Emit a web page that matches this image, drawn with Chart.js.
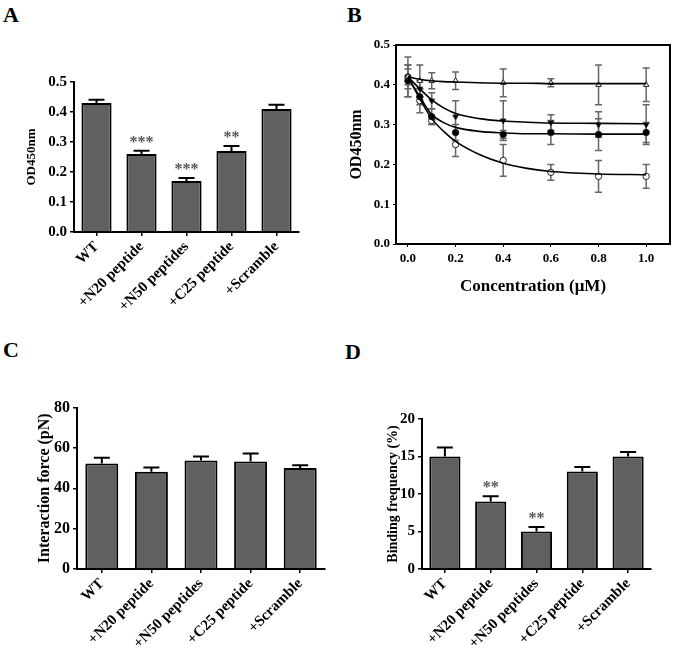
<!DOCTYPE html>
<html>
<head>
<meta charset="utf-8">
<script src="https://cdn.jsdelivr.net/npm/chart.js@4.4.1/dist/chart.umd.min.js"></script>
<style>
  body { margin:0; width:675px; height:656px; background:#fff; position:relative; overflow:hidden; }
  .box { position:absolute; }
  .tag { position:absolute; font:bold 22px 'Liberation Serif', serif; line-height:22px; color:#000; }
</style>
</head>
<body>
<div class="tag" style="left:3px;top:4px">A</div>
<div class="tag" style="left:347px;top:4px">B</div>
<div class="tag" style="left:3px;top:339px">C</div>
<div class="tag" style="left:345px;top:341px">D</div>

<div class="box" id="boxA" style="left:20px;top:70px;width:283px;height:262px"><canvas id="chartA"></canvas></div>
<div class="box" id="boxB" style="left:343px;top:33px;width:332px;height:268px"><canvas id="chartB"></canvas></div>
<div class="box" id="boxC" style="left:31px;top:395px;width:298px;height:274px"><canvas id="chartC"></canvas></div>
<div class="box" id="boxD" style="left:381px;top:407px;width:274px;height:262px"><canvas id="chartD"></canvas></div>

<script>
// ---- data ----
const groups = ['WT', '+N20 peptide', '+N50 peptides', '+C25 peptide', '+Scramble'];

// A: OD450nm
const odA      = [0.43, 0.26, 0.17, 0.27, 0.41];
const odAErr   = [0.011, 0.011, 0.01, 0.017, 0.014];
const odAStars = ['', '***', '***', '**', ''];

// C: interaction force (pN)
const forceC    = [52.3, 48.2, 53.8, 53.3, 50.1];
const forceCErr = [2.8, 2.1, 2.0, 4.0, 1.3];

// D: binding frequency (%)
const freqD      = [15, 9, 5, 13, 15];
const freqDErr   = [1.2, 0.7, 0.6, 0.6, 0.6];
const freqDStars = ['', '**', '**', '', ''];

// B: concentration series
const concB    = [0, 0.05, 0.1, 0.2, 0.4, 0.6, 0.8, 1.0];
const xTicksB  = [0, 0.2, 0.4, 0.6, 0.8, 1.0];
const triOpen  = [0.42, 0.41, 0.41, 0.41, 0.405, 0.405, 0.40, 0.40];
const triOpenErr  = [0.05, 0.04, 0.02, 0.022, 0.035, 0.01, 0.05, 0.042];
const triFill  = [0.42, 0.39, 0.36, 0.32, 0.31, 0.305, 0.30, 0.30];
const triFillErr  = [0.03, 0.02, 0.02, 0.04, 0.05, 0.02, 0.032, 0.05];
const dotFill  = [0.41, 0.37, 0.32, 0.28, 0.275, 0.28, 0.275, 0.28];
const dotFillErr  = [0.04, 0.02, 0.02, 0.02, 0.01, 0.03, 0.04, 0.025];
const dotOpen  = [0.42, 0.36, 0.31, 0.25, 0.21, 0.18, 0.17, 0.17];
const dotOpenErr  = [0.02, 0.03, 0.01, 0.03, 0.04, 0.02, 0.04, 0.03];

// fitted curves, read at these x values
const fitX       = [0, 0.05, 0.1, 0.15, 0.2, 0.3, 0.4, 0.5, 0.6, 0.8, 1.0];
const fitTriOpen = [0.42, 0.414, 0.41, 0.408, 0.407, 0.405, 0.404, 0.404, 0.403, 0.403, 0.403];
const fitTriFill = [0.42, 0.39, 0.362, 0.342, 0.328, 0.315, 0.309, 0.306, 0.304, 0.303, 0.302];
const fitDotFill = [0.42, 0.37, 0.325, 0.305, 0.293, 0.283, 0.279, 0.277, 0.277, 0.276, 0.276];
const fitDotOpen = [0.42, 0.365, 0.315, 0.283, 0.258, 0.225, 0.203, 0.19, 0.182, 0.176, 0.174];

// ---- shared look ----
const SERIF = "'Liberation Serif', 'Times New Roman', serif";
Chart.defaults.font.family = SERIF;
Chart.defaults.font.weight = 'bold';
Chart.defaults.color = '#000';
Chart.defaults.animation = false;
Chart.defaults.devicePixelRatio = 1;

// error caps + stars on bar charts
const barExtras = {
  id: 'barExtras',
  afterDatasetsDraw(chart){
    const ds = chart.data.datasets[0], meta = chart.getDatasetMeta(0), y = chart.scales.y;
    const ctx = chart.ctx;
    ctx.save();
    meta.data.forEach((bar, i) => {
      const top = y.getPixelForValue(ds.data[i] + ds.err[i]);
      const base = y.getPixelForValue(ds.data[i]);
      ctx.strokeStyle = '#000';
      ctx.lineWidth = 2;
      ctx.beginPath();
      ctx.moveTo(bar.x, base); ctx.lineTo(bar.x, top);
      ctx.moveTo(bar.x - 8, top); ctx.lineTo(bar.x + 8, top);
      ctx.stroke();
      if (ds.stars && ds.stars[i]) {
        ctx.fillStyle = '#555';
        ctx.font = 'bold 16px ' + SERIF;
        ctx.textAlign = 'center';
        ctx.textBaseline = 'alphabetic';
        ctx.fillText(ds.stars[i], bar.x, top - 4);
      }
    });
    ctx.restore();
  }
};

function barChart(id, values, errs, stars, yMax, yStep, yTitle, opt){
  return new Chart(document.getElementById(id), {
    type: 'bar',
    data: { labels: groups, datasets: [{
      data: values, err: errs, stars: stars,
      backgroundColor: '#606060', borderColor: '#000', borderWidth: 2,
      barPercentage: opt.barPct, categoryPercentage: 1
    }]},
    options: {
      responsive: true, maintainAspectRatio: false,
      layout: { padding: { left: 0, top: 12, right: 4, bottom: 0 } },
      plugins: { legend: { display: false }, tooltip: { enabled: false } },
      scales: {
        x: {
          grid: { display: true, drawOnChartArea: false, offset: false, tickLength: 4, color: '#000', lineWidth: 1.5 },
          border: { color: '#000', width: 2 },
          ticks: { autoSkip: false, minRotation: 45, maxRotation: 45, padding: 2, font: { size: opt.xFont } },
          afterFit: s => { s.height = 100; }
        },
        y: {
          min: 0, max: yMax,
          grid: { display: true, drawOnChartArea: false, tickLength: 4, color: '#000', lineWidth: 1.5 },
          border: { color: '#000', width: 2 },
          ticks: { stepSize: yStep, padding: 3, font: { size: opt.tickFont },
                   callback: v => opt.dec ? v.toFixed(1) : v },
          title: { display: true, text: yTitle, font: { size: opt.titleFont } },
          afterFit: s => { s.width = opt.yWidth; }
        }
      }
    },
    plugins: [barExtras]
  });
}

barChart('chartA', odA, odAErr, odAStars, 0.5, 0.1, 'OD450nm',
  { barPct: 0.67, xFont: 15, tickFont: 15, titleFont: 13, yWidth: 54, dec: true });
barChart('chartC', forceC, forceCErr, null, 80, 20, 'Interaction force (pN)',
  { barPct: 0.665, xFont: 15, tickFont: 16, titleFont: 16, yWidth: 46, dec: false });
barChart('chartD', freqD, freqDErr, freqDStars, 20, 5, 'Binding frequency (%)',
  { barPct: 0.68, xFont: 15, tickFont: 15, titleFont: 14, yWidth: 41, dec: false });

// ---- panel B ----
const pts = arr => concB.map((x, i) => ({ x: x, y: arr[i] }));
const fit = arr => fitX.map((x, i) => ({ x: x, y: arr[i] }));

const frameAndErr = {
  id: 'frameAndErr',
  beforeDatasetsDraw(chart){
    const ctx = chart.ctx, xs = chart.scales.x, ys = chart.scales.y;
    ctx.save();
    ctx.strokeStyle = '#666';
    ctx.lineWidth = 1.5;
    chart.data.datasets.forEach(ds => {
      if (!ds.err) return;
      ds.data.forEach((p, i) => {
        const px = xs.getPixelForValue(p.x);
        const hi = ys.getPixelForValue(p.y + ds.err[i]);
        const lo = ys.getPixelForValue(p.y - ds.err[i]);
        ctx.beginPath();
        ctx.moveTo(px, lo); ctx.lineTo(px, hi);
        ctx.moveTo(px - 3.5, hi); ctx.lineTo(px + 3.5, hi);
        ctx.moveTo(px - 3.5, lo); ctx.lineTo(px + 3.5, lo);
        ctx.stroke();
      });
    });
    ctx.restore();
  },
  afterDraw(chart){
    const a = chart.chartArea, ctx = chart.ctx;
    ctx.save();
    ctx.strokeStyle = '#000';
    ctx.lineWidth = 2;
    ctx.strokeRect(a.left, a.top, a.right - a.left, a.bottom - a.top);
    ctx.restore();
  }
};

const fitLine = arr => ({
  type: 'line', data: fit(arr), borderColor: '#000', borderWidth: 1.6,
  pointRadius: 0, fill: false, cubicInterpolationMode: 'monotone'
});
const markers = (arr, err, style, rot, fillCol) => ({
  type: 'scatter', data: pts(arr), err: err, showLine: false,
  pointStyle: style, rotation: rot, pointRadius: 3.2,
  pointBackgroundColor: fillCol, pointBorderColor: '#222', pointBorderWidth: 1
});

new Chart(document.getElementById('chartB'), {
  type: 'scatter',
  data: { datasets: [
    fitLine(fitTriOpen), fitLine(fitTriFill), fitLine(fitDotFill), fitLine(fitDotOpen),
    markers(triOpen, triOpenErr, 'triangle', 0, '#fff'),
    markers(triFill, triFillErr, 'triangle', 180, '#000'),
    markers(dotFill, dotFillErr, 'circle', 0, '#000'),
    markers(dotOpen, dotOpenErr, 'circle', 0, '#fff')
  ]},
  options: {
    responsive: true, maintainAspectRatio: false,
    layout: { padding: { left: 0, top: 12, right: 3, bottom: 0 } },
    plugins: { legend: { display: false }, tooltip: { enabled: false } },
    scales: {
      x: {
        type: 'linear', min: -0.05, max: 1.1,
        afterBuildTicks: s => { s.ticks = xTicksB.map(v => ({ value: v })); },
        grid: { display: true, drawOnChartArea: false, tickLength: 3, color: '#000', lineWidth: 1 },
        border: { color: '#000', width: 2 },
        ticks: { padding: 4, font: { size: 13 }, callback: v => v.toFixed(1) },
        title: { display: true, text: 'Concentration (μM)', font: { size: 17 } },
        afterFit: s => { s.height = 57; }
      },
      y: {
        min: 0, max: 0.5,
        grid: { display: true, drawOnChartArea: false, tickLength: 3, color: '#000', lineWidth: 1 },
        border: { color: '#000', width: 2 },
        ticks: { stepSize: 0.1, padding: 3, font: { size: 13 }, callback: v => v.toFixed(1) },
        title: { display: true, text: 'OD450nm', font: { size: 16 } },
        afterFit: s => { s.width = 53; }
      }
    }
  },
  plugins: [frameAndErr]
});
</script>
</body>
</html>
